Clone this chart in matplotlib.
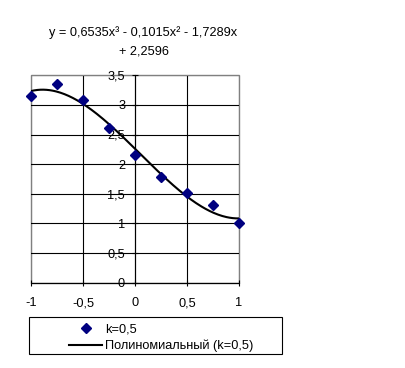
import numpy as np
import matplotlib
matplotlib.use("Agg")
import matplotlib.pyplot as plt
from matplotlib.patches import Rectangle
from matplotlib.lines import Line2D

plt.rcParams["font.family"] = ["Liberation Sans", "DejaVu Sans"]
plt.rcParams["axes.unicode_minus"] = False

# data
x_pts = [-1, -0.75, -0.5, -0.25, 0, 0.25, 0.5, 0.75, 1]
y_pts = [3.15, 3.35, 3.09, 2.61, 2.15, 1.79, 1.52, 1.31, 1.0]

# trendline coefficients as printed on the chart
coef = [0.6535, -0.1015, -1.7289, 2.2596]
eq_line1 = "y = 0,6535x³ - 0,1015x² - 1,7289x"
eq_line2 = "+ 2,2596"

x_ticks = [-1, -0.5, 0, 0.5, 1]
x_labels = ["-1", "-0,5", "0", "0,5", "1"]
y_ticks = [0, 0.5, 1, 1.5, 2, 2.5, 3, 3.5]
y_labels = ["0", "0,5", "1", "1,5", "2", "2,5", "3", "3,5"]

series_name = "k=0,5"
trend_name = "Полиномиальный (k=0,5)"

W, H = 405, 368
FS = 9.2
fig = plt.figure(figsize=(W / 100, H / 100), dpi=100)
ax = fig.add_axes([31 / W, 1 - 282.5 / H, 208 / W, 207.2 / H])

xs = np.linspace(-1, 1, 200)
ax.plot(xs, np.polyval(coef, xs), color="black", lw=1.5, zorder=3)
ax.plot(x_pts, y_pts, ls="none", marker="D", ms=5, color="#000080",
        mec="#000080", zorder=4, clip_on=False)

ax.set_xlim(-1, 1)
ax.set_ylim(0, 3.5)
ax.set_xticks(x_ticks)
ax.set_xticklabels(x_labels)
ax.set_yticks(y_ticks)
ax.set_yticklabels(y_labels)

# plot area border in grey, axes through zero in black
ax.patch.set_edgecolor("#808080")
ax.patch.set_linewidth(1.0)
ax.spines["top"].set_visible(False)
ax.spines["right"].set_visible(False)
ax.spines["left"].set_position(("data", 0))
ax.spines["left"].set_linewidth(0.8)
ax.spines["bottom"].set_linewidth(0.8)

ax.grid(True, color="black", lw=0.8)
for gl, t in zip(ax.get_xgridlines(), x_ticks):
    if t in (x_ticks[0], x_ticks[-1]):
        gl.set_color("#808080")
for gl, t in zip(ax.get_ygridlines(), y_ticks):
    if t == y_ticks[-1]:
        gl.set_color("#808080")
ax.set_axisbelow(True)

ax.tick_params(axis="both", direction="inout", length=4.3, width=0.8,
               labelsize=FS, colors="black")
ax.tick_params(axis="x", pad=8.5)
ax.tick_params(axis="y", pad=5)

fig.text(143 / W, 1 - 33 / H, eq_line1, ha="center", va="center", fontsize=FS)
fig.text(144 / W, 1 - 51 / H, eq_line2, ha="center", va="center", fontsize=FS)

# legend with a wide box
fig.add_artist(Rectangle((29 / W, 1 - 354 / H), 253 / W, 37 / H,
                         transform=fig.transFigure, fill=False,
                         edgecolor="black", lw=0.8))
handles = [Line2D([], [], ls="none", marker="D", ms=5, color="#000080"),
           Line2D([], [], color="black", lw=1.5)]
fig.legend(handles, [series_name, trend_name], loc="upper left",
           bbox_to_anchor=(60 / W, 1 - 315 / H), frameon=False,
           fontsize=FS, handlelength=2.6, handletextpad=0.2,
           labelspacing=0.3, borderpad=0.2)

fig.savefig("out.png", dpi=100)
